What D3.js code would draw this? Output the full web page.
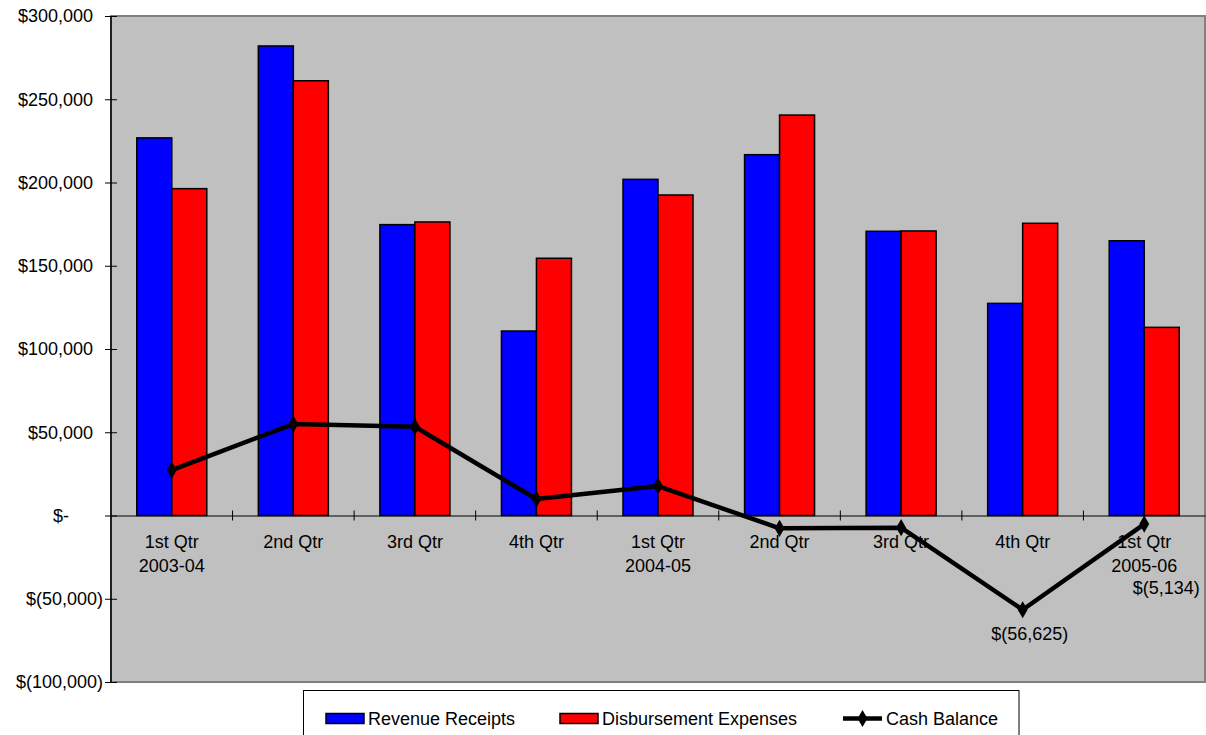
<!DOCTYPE html>
<html>
<head>
<meta charset="utf-8">
<script src="https://cdn.jsdelivr.net/npm/d3@7"></script>
<style>
  html, body { margin: 0; padding: 0; background: #fff; }
  svg { display: block; font-family: "Liberation Sans", Arial, sans-serif; }
</style>
</head>
<body>
<svg id="chart" width="1206" height="735"></svg>
<script>
// Quarterly figures
const categories = ["1st Qtr\n2003-04", "2nd Qtr", "3rd Qtr", "4th Qtr",
                    "1st Qtr\n2004-05", "2nd Qtr", "3rd Qtr", "4th Qtr", "1st Qtr\n2005-06"];
const revenueReceipts = [226800, 282000, 174700, 110800, 201900, 216700, 170700, 127400, 165000];
const disbursementExpenses = [196300, 261100, 176300, 154500, 192500, 240500, 170900, 175500, 113000];
const cashBalance = [27300, 54900, 53300, 9900, 17700, -7700, -7300, -56625, -5134];
const labelledPoints = [7, 8];           // points that carry a value label
const yTicks = [-100000, -50000, 0, 50000, 100000, 150000, 200000, 250000, 300000];
const seriesNames = ["Revenue Receipts", "Disbursement Expenses", "Cash Balance"];

const svg = d3.select("#chart");
const plot = { left: 111, top: 16, right: 1205, bottom: 682 };
const FONT = 18;

const x = d3.scaleBand().domain(d3.range(categories.length))
  .range([plot.left, plot.right]).paddingInner(0).paddingOuter(0);
const xSub = d3.scaleBand().domain([0, 1]).range([0, x.bandwidth()])
  .paddingInner(0).paddingOuter(0.7366);
const y = d3.scaleLinear().domain([-100000, 300000]).range([plot.bottom, plot.top]);

const num = d3.format(",");
const money = v => v === 0 ? "$-" : v < 0 ? "$(" + num(-v) + ")" : "$" + num(v);

// Plot background and frame
svg.append("rect")
  .attr("x", plot.left).attr("y", plot.top)
  .attr("width", plot.right - plot.left).attr("height", plot.bottom - plot.top)
  .attr("fill", "#C0C0C0").attr("stroke", "#808080").attr("stroke-width", 2);

// Bars
const barData = [];
categories.forEach((c, i) => {
  barData.push({ i, s: 0, v: revenueReceipts[i], color: "#0000FF" });
  barData.push({ i, s: 1, v: disbursementExpenses[i], color: "#FF0000" });
});
svg.append("g").selectAll("rect").data(barData).join("rect")
  .attr("x", d => x(d.i) + xSub(d.s))
  .attr("y", d => y(Math.max(0, d.v)))
  .attr("width", xSub.bandwidth())
  .attr("height", d => Math.abs(y(d.v) - y(0)))
  .attr("fill", d => d.color)
  .attr("stroke", "#000").attr("stroke-width", 1.5);

// Y axis
const yAxis = d3.axisLeft(y).tickValues(yTicks).tickSize(6).tickFormat(money);
const gy = svg.append("g").attr("transform", `translate(${plot.left},0)`).call(yAxis);
gy.select(".domain").attr("stroke", "#000").attr("stroke-width", 1.5).attr("d", `M0,${plot.top}V${plot.bottom}`);
gy.selectAll(".tick line").attr("x1", -6).attr("x2", 6).attr("stroke", "#000");
gy.selectAll(".tick text")
  .attr("font-size", FONT).attr("fill", "#000")
  .attr("font-family", "Liberation Sans, Arial, sans-serif")
  .attr("x", d => d < 0 ? -8 : d === 0 ? -42 : -18);

// Category axis along zero
const xAxis = d3.axisBottom(x).tickSize(0).tickFormat("");
const gx = svg.append("g").attr("transform", `translate(0,${y(0)})`).call(xAxis);
gx.select(".domain").attr("stroke", "#000").attr("stroke-width", 1.2);
gx.selectAll(".tick").remove();
const boundaries = d3.range(1, categories.length).map(i => x(i));
gx.selectAll("line.cat").data(boundaries).join("line")
  .attr("class", "cat")
  .attr("x1", d => d).attr("x2", d => d)
  .attr("y1", -5).attr("y2", 5)
  .attr("stroke", "#000").attr("stroke-width", 1);

// Category labels
const catLabels = svg.append("g").selectAll("text").data(categories).join("text")
  .attr("x", (d, i) => x(i) + x.bandwidth() / 2)
  .attr("y", 548)
  .attr("text-anchor", "middle")
  .attr("font-size", FONT).attr("fill", "#000");
catLabels.each(function(d) {
  const lines = d.split("\n");
  d3.select(this).selectAll("tspan").data(lines).join("tspan")
    .attr("x", d3.select(this).attr("x"))
    .attr("dy", (l, k) => k === 0 ? 0 : 23.5)
    .text(l => l);
});

// Cash balance line
const lineGen = d3.line()
  .x((d, i) => x(i) + x.bandwidth() / 2)
  .y(d => y(d));
svg.append("path").datum(cashBalance)
  .attr("d", lineGen)
  .attr("fill", "none").attr("stroke", "#000")
  .attr("stroke-width", 4.5).attr("stroke-linejoin", "round");
const diamond = d3.symbol().type(d3.symbolDiamond).size(85);
svg.append("g").selectAll("path").data(cashBalance).join("path")
  .attr("d", diamond)
  .attr("transform", (d, i) => `translate(${x(i) + x.bandwidth() / 2},${y(d)})`)
  .attr("fill", "#000");

// Value labels on the last points
const labelOffset = { 7: [7, 30], 8: [22, 70] };
svg.append("g").selectAll("text").data(labelledPoints).join("text")
  .attr("x", i => x(i) + x.bandwidth() / 2 + labelOffset[i][0])
  .attr("y", i => y(cashBalance[i]) + labelOffset[i][1])
  .attr("text-anchor", "middle")
  .attr("font-size", FONT).attr("fill", "#000")
  .text(i => money(cashBalance[i]));

// Legend
const legend = svg.append("g");
const legendMid = 718.5;
legend.append("rect")
  .attr("x", 303.5).attr("y", 690.5).attr("width", 715.5).attr("height", 60)
  .attr("fill", "#fff").attr("stroke", "#000").attr("stroke-width", 1);
const legendItems = [
  { name: seriesNames[0], kind: "bar", color: "#0000FF", x: 326, tx: 368 },
  { name: seriesNames[1], kind: "bar", color: "#FF0000", x: 560, tx: 602 },
  { name: seriesNames[2], kind: "line", color: "#000", x: 843, tx: 886 }
];
legendItems.forEach(it => {
  if (it.kind === "bar") {
    legend.append("rect")
      .attr("x", it.x).attr("y", legendMid - 5).attr("width", 38).attr("height", 10)
      .attr("fill", it.color).attr("stroke", "#000").attr("stroke-width", 1.5);
  } else {
    legend.append("line")
      .attr("x1", it.x).attr("x2", it.x + 39).attr("y1", legendMid).attr("y2", legendMid)
      .attr("stroke", "#000").attr("stroke-width", 4.5);
    legend.append("path").attr("d", diamond)
      .attr("transform", `translate(${it.x + 19.5},${legendMid})`).attr("fill", "#000");
  }
  legend.append("text")
    .attr("x", it.tx).attr("y", legendMid + 6.5)
    .attr("font-size", FONT).attr("fill", "#000")
    .text(it.name);
});
</script>
</body>
</html>
